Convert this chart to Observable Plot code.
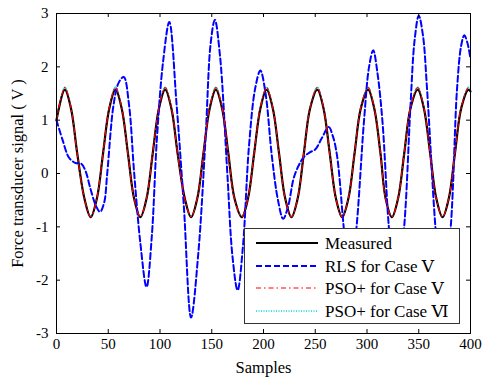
<!DOCTYPE html>
<html><head><meta charset="utf-8">
<script src="https://cdn.jsdelivr.net/npm/d3@7"></script>
<script src="https://cdn.jsdelivr.net/npm/@observablehq/plot@0.6"></script>
<style>
body{margin:0;background:#fff}
#wrap{position:relative;width:483px;height:383px}
#legend{position:absolute;left:244px;top:228px}
svg text{font-family:"Liberation Serif","Times New Roman","DejaVu Serif",serif}
</style>
</head><body><div id="wrap"></div>
<script>
// ---- data ----
const measuredX = [0, 8, 14, 20, 27, 33, 39, 45, 51, 57, 63, 69, 75, 81, 87, 93, 99, 105, 111, 117, 124, 130, 136, 142, 148, 154, 160, 166, 172, 179, 185, 191, 197, 203, 209, 215, 221, 227, 233, 239, 245, 252, 258, 264, 270, 276, 282, 288, 294, 301, 307, 313, 318, 324, 330, 336, 342, 349, 355, 361, 367, 373, 379, 385, 391, 398, 400];
const measuredY = [1.0, 1.57, 1.22, 0.38, -0.47, -0.82, -0.47, 0.38, 1.22, 1.57, 1.22, 0.38, -0.47, -0.82, -0.47, 0.38, 1.22, 1.57, 1.22, 0.38, -0.47, -0.82, -0.47, 0.38, 1.22, 1.57, 1.22, 0.38, -0.47, -0.82, -0.47, 0.38, 1.22, 1.57, 1.22, 0.38, -0.47, -0.82, -0.47, 0.38, 1.22, 1.57, 1.22, 0.38, -0.47, -0.82, -0.47, 0.38, 1.22, 1.57, 1.22, 0.38, -0.47, -0.82, -0.47, 0.38, 1.22, 1.57, 1.22, 0.38, -0.47, -0.82, -0.47, 0.38, 1.22, 1.57, 1.54];

const psoVX = measuredX;
const psoVY = [1.0, 1.61, 1.23, 0.37, -0.48, -0.81, -0.46, 0.39, 1.24, 1.61, 1.23, 0.37, -0.48, -0.81, -0.46, 0.39, 1.24, 1.61, 1.23, 0.37, -0.48, -0.81, -0.46, 0.39, 1.24, 1.61, 1.23, 0.37, -0.48, -0.81, -0.46, 0.39, 1.24, 1.61, 1.23, 0.37, -0.48, -0.81, -0.46, 0.39, 1.24, 1.61, 1.23, 0.37, -0.48, -0.81, -0.46, 0.39, 1.24, 1.61, 1.23, 0.37, -0.48, -0.81, -0.46, 0.39, 1.24, 1.61, 1.23, 0.37, -0.48, -0.81, -0.46, 0.39, 1.24, 1.61, 1.57];

const psoVIX = measuredX;
const psoVIY = [1.02, 1.62, 1.24, 0.38, -0.47, -0.80, -0.46, 0.40, 1.25, 1.62, 1.24, 0.38, -0.47, -0.80, -0.46, 0.40, 1.25, 1.62, 1.24, 0.38, -0.47, -0.80, -0.46, 0.40, 1.25, 1.62, 1.24, 0.38, -0.47, -0.80, -0.46, 0.40, 1.25, 1.62, 1.24, 0.38, -0.47, -0.80, -0.46, 0.40, 1.25, 1.62, 1.24, 0.38, -0.47, -0.80, -0.46, 0.40, 1.25, 1.62, 1.24, 0.38, -0.47, -0.80, -0.46, 0.40, 1.25, 1.62, 1.24, 0.38, -0.47, -0.80, -0.46, 0.40, 1.25, 1.62, 1.58];

const rlsX = [0, 6, 12, 18, 24, 28, 33, 38, 42, 46, 49, 55, 60, 65, 70, 75, 81, 87, 92, 97, 103, 109, 116, 123, 130, 137, 144, 149, 153, 158, 165, 170, 175, 180, 186, 192, 197, 202, 208, 214, 219, 224, 229, 234, 239, 245, 250, 256, 263, 267, 271, 277, 283, 290, 297, 302, 306, 310, 315, 321, 328, 336, 342, 346, 350, 354, 358, 366, 373, 381, 387, 391, 394, 397, 400];
const rlsY = [1.0, 0.62, 0.3, 0.2, 0.18, 0.05, -0.3, -0.6, -0.72, -0.55, 0.0, 1.27, 1.7, 1.81, 1.3, 0.02, -1.3, -2.13, -1.2, 0.65, 2.1, 2.84, 1.3, -0.6, -2.7, -1.5, 0.66, 2.45, 2.88, 2.2, 0.02, -1.55, -2.19, -1.4, 0.52, 1.6, 1.93, 1.5, 0.34, -0.5, -0.85, -0.6, -0.1, 0.15, 0.31, 0.4, 0.45, 0.65, 0.87, 0.7, 0.34, -0.9, -2.2, -0.98, 0.96, 2.0, 2.31, 1.9, 0.96, -0.98, -2.4, -0.98, 1.27, 2.5, 2.96, 2.6, 1.59, -0.98, -2.5, -0.98, 1.59, 2.4, 2.59, 2.45, 2.15];

const xTicks = [0, 50, 100, 150, 200, 250, 300, 350, 400];
const yTicks = [-3, -2, -1, 0, 1, 2, 3];
const seriesNames = ["Measured", "RLS for Case \u2164", "PSO+ for Case \u2164", "PSO+ for Case \u2165"];
const xLabel = "Samples";
const yLabel = "Force transducer signal ( V )";

// ---- styles ----
const styles = [
  {stroke: "#000000", strokeWidth: 2.2, dash: null},
  {stroke: "#0000ff", strokeWidth: 2, dash: "6,3"},
  {stroke: "#ff0000", strokeWidth: 1.2, dash: "5,3,1.5,3"},
  {stroke: "#00d8d8", strokeWidth: 1.3, dash: "1,1.5"}
];
const drawOrder = [3, 0, 1, 2];
const font = "Liberation Serif, Times New Roman, DejaVu Serif, serif";

const toRows = (xs, ys) => xs.map((x, i) => ({x, y: ys[i]}));
const series = [
  toRows(measuredX, measuredY),
  toRows(rlsX, rlsY),
  toRows(psoVX, psoVY),
  toRows(psoVIX, psoVIY)
];

const W = 483, H = 383, mL = 56, mR = 13, mT = 13, mB = 50;
const innerW = W - mL - mR, innerH = H - mT - mB, tickLen = 4;

const chart = Plot.plot({
  width: W, height: H,
  marginLeft: mL, marginRight: mR, marginTop: mT, marginBottom: mB,
  style: {fontFamily: font, fontSize: "15px", color: "#000", background: "#fff"},
  x: {domain: [0, 400]},
  y: {domain: [-3, 3]},
  marks: [
    ...drawOrder.map(i => Plot.line(series[i], {
      x: "x", y: "y", curve: "catmull-rom",
      stroke: styles[i].stroke, strokeWidth: styles[i].strokeWidth,
      strokeDasharray: styles[i].dash
    })),
    Plot.frame({stroke: "#000", strokeWidth: 1}),
    Plot.tickX(xTicks, {x: d => d, insetTop: innerH - tickLen, stroke: "#000"}),
    Plot.tickX(xTicks, {x: d => d, insetBottom: innerH - tickLen, stroke: "#000"}),
    Plot.tickY(yTicks, {y: d => d, insetRight: innerW - tickLen, stroke: "#000"}),
    Plot.tickY(yTicks, {y: d => d, insetLeft: innerW - tickLen, stroke: "#000"}),
    Plot.axisX({ticks: xTicks, tickSize: 0, tickPadding: 5, fontSize: 15,
      tickFormat: d => String(d), label: null}),
    Plot.axisY({ticks: yTicks, tickSize: 0, tickPadding: 8, fontSize: 15,
      tickFormat: d => String(d), label: null}),
    Plot.text([xLabel], {frameAnchor: "bottom", dy: 39, fontSize: 16.5,
      fontFamily: font, lineAnchor: "bottom", textAnchor: "middle", text: d => d}),
    Plot.text([yLabel], {frameAnchor: "left", dx: -39, rotate: -90, fontSize: 16.5,
      fontFamily: font, lineAnchor: "middle", textAnchor: "middle", text: d => d})
  ]
});

const wrap = document.getElementById("wrap");
wrap.appendChild(chart);

// ---- legend (overlay box, white fill, like the reference) ----
const lw = 216, lh = 96;
const leg = d3.select(wrap).append("svg").attr("id", "legend")
  .attr("width", lw).attr("height", lh);
leg.append("rect").attr("x", 0.5).attr("y", 0.5).attr("width", lw - 1).attr("height", lh - 1)
  .attr("fill", "#fff").attr("stroke", "#333").attr("stroke-width", 1);
const rowY = [15, 38, 60, 83];
seriesNames.forEach((name, i) => {
  leg.append("line").attr("x1", 12).attr("x2", 74).attr("y1", rowY[i]).attr("y2", rowY[i])
    .attr("stroke", styles[i].stroke).attr("stroke-width", styles[i].strokeWidth)
    .attr("stroke-dasharray", styles[i].dash);
  leg.append("text").attr("x", 81).attr("y", rowY[i]).attr("dy", "0.35em")
    .attr("font-family", font).attr("font-size", 17).attr("fill", "#000").text(name);
});
</script>
</body></html>
